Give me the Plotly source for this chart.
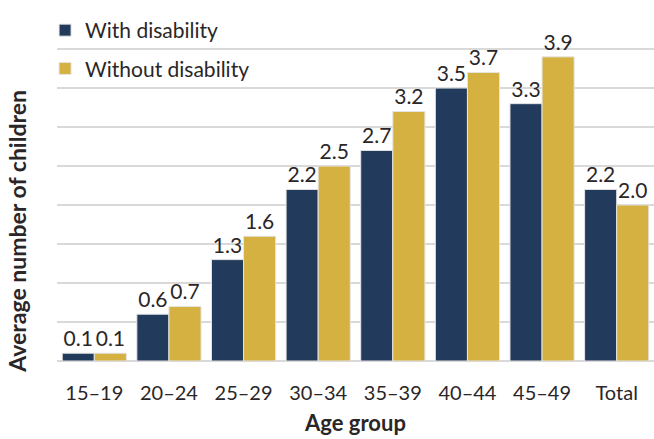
import plotly.graph_objects as go

age_groups = ["15–19", "20–24", "25–29", "30–34", "35–39", "40–44", "45–49", "Total"]
with_disability = [0.1, 0.6, 1.3, 2.2, 2.7, 3.5, 3.3, 2.2]
without_disability = [0.1, 0.7, 1.6, 2.5, 3.2, 3.7, 3.9, 2.0]

NAVY = "#223a5c"
GOLD = "#d5b142"
TEXT = "#2a2627"
FONT = "Lato"

fig = go.Figure()
for name, vals, color, grp in [
    ("With disability", with_disability, NAVY, "a"),
    ("Without disability", without_disability, GOLD, "b"),
]:
    fig.add_trace(go.Bar(
        x=age_groups, y=vals, name=name, legendgroup=grp,
        marker=dict(color=color, line=dict(color="#e4e4e4", width=1)),
        text=[f"{v:.1f}" for v in vals], textposition="outside",
        textfont=dict(size=21, color=TEXT, family=FONT),
        constraintext="none", cliponaxis=False,
    ))

# y-axis title placed as a rotated annotation so it can sit below the plot centre
fig.add_annotation(
    text="<b>Average number of children</b>", textangle=-90,
    xref="paper", yref="paper", x=-0.066, y=0.37,
    xanchor="center", yanchor="middle", showarrow=False,
    font=dict(size=23, family=FONT, color=TEXT),
)

fig.update_layout(
    width=654, height=439,
    margin=dict(l=57, r=0, t=10, b=78),
    paper_bgcolor="white", plot_bgcolor="white",
    barmode="group", bargap=0.14, bargroupgap=0,
    font=dict(family=FONT, color=TEXT, size=20),
    legend=dict(
        x=-0.02, y=1.0, xanchor="left", yanchor="top",
        bgcolor="rgba(0,0,0,0)", font=dict(size=21, family=FONT, color=TEXT),
        traceorder="grouped", tracegroupgap=8, itemwidth=30,
    ),
    xaxis=dict(
        title=dict(text="<b>Age group</b>", font=dict(size=22, family=FONT, color=TEXT), standoff=12),
        tickfont=dict(size=20, family=FONT, color=TEXT), ticklabelstandoff=18,
        showline=False, ticks="", range=[-0.5, 7.5],
    ),
    yaxis=dict(
        range=[0, 4.501], dtick=0.5, showticklabels=False, ticks="",
        showgrid=True, gridcolor="#d9d9d9", gridwidth=1.5,
        zeroline=True, zerolinecolor="#d9d9d9", zerolinewidth=1.5,
    ),
)

fig.write_html("out.html")
